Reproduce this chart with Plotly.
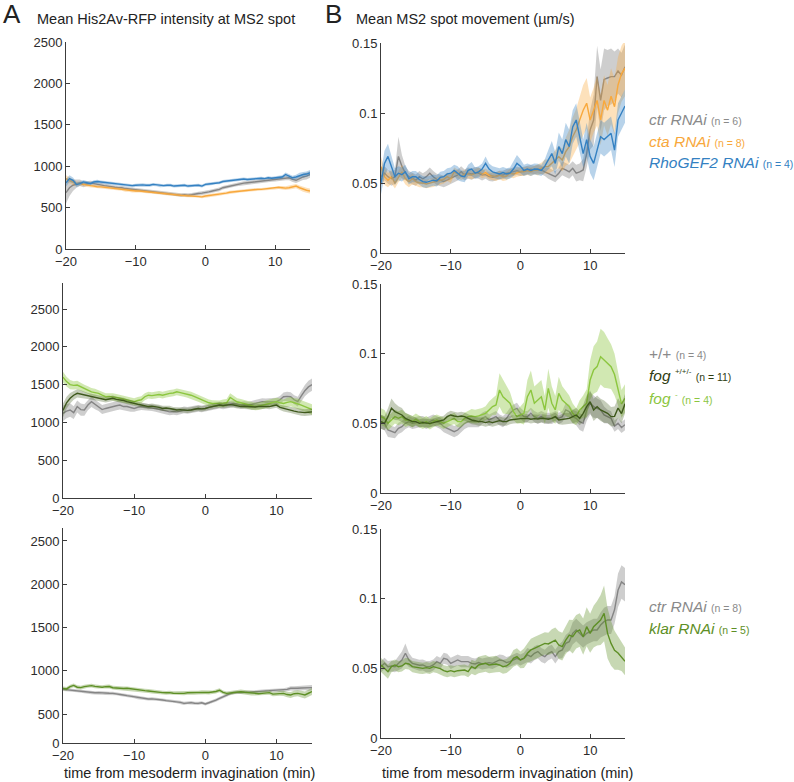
import numpy as np
import plotly.graph_objects as go

# ---------------- data ----------------
time_min = np.arange(-20, 15.01, 0.5)  # sampling grid, 71 points

# Panel A1: His2Av-RFP intensity (ctr / cta / RhoGEF2 RNAi)
a1_ctr = [680, 740, 770, 790, 800, 780, 790, 795, 790, 780,
          770, 765, 760, 750, 745, 740, 740, 730, 725, 720,
          720, 715, 710, 700, 700, 695, 690, 685, 680, 675,
          670, 665, 660, 650, 655, 650, 655, 665, 670, 675,
          680, 690, 700, 710, 720, 740, 750, 760, 770, 780,
          790, 795, 800, 805, 810, 815, 820, 825, 830, 835,
          840, 845, 850, 860, 860, 840, 830, 850, 870, 880,
          900]
a1_ctr_sem = [130, 100, 70, 50, 40, 35, 30, 28, 28, 25,
              22, 22, 22, 22, 22, 22, 22, 22, 22, 22,
              22, 22, 22, 22, 22, 22, 22, 22, 22, 22,
              22, 22, 22, 22, 22, 22, 22, 22, 22, 22,
              22, 22, 22, 22, 22, 22, 22, 22, 22, 22,
              22, 22, 22, 22, 22, 22, 22, 22, 22, 22,
              25, 25, 28, 30, 30, 30, 32, 35, 38, 40,
              40]
a1_cta = [850, 830, 800, 790, 790, 780, 770, 765, 760, 750,
          750, 745, 740, 730, 730, 725, 720, 710, 710, 700,
          700, 700, 695, 690, 690, 685, 680, 675, 670, 665,
          660, 655, 650, 648, 645, 642, 640, 638, 640, 630,
          640, 645, 650, 655, 660, 670, 675, 685, 690, 695,
          700, 705, 710, 715, 715, 720, 720, 725, 730, 735,
          740, 745, 740, 735, 740, 750, 760, 740, 720, 710,
          700]
a1_cta_sem = [40, 35, 30, 25, 22, 20, 20, 20, 20, 20,
              18, 18, 18, 18, 18, 18, 18, 18, 18, 18,
              18, 18, 18, 18, 18, 18, 18, 18, 18, 18,
              18, 18, 18, 18, 18, 18, 18, 18, 18, 18,
              18, 18, 18, 18, 18, 18, 18, 18, 18, 18,
              18, 18, 18, 18, 18, 18, 18, 18, 18, 18,
              20, 20, 22, 22, 25, 25, 25, 28, 30, 30,
              30]
a1_rho = [800, 850, 830, 780, 790, 810, 800, 790, 810, 815,
          810, 805, 800, 795, 790, 780, 780, 770, 770, 765,
          770, 775, 775, 770, 770, 780, 775, 765, 765, 770,
          770, 760, 765, 770, 770, 760, 765, 770, 770, 760,
          780, 785, 790, 800, 800, 815, 820, 825, 830, 835,
          840, 845, 840, 845, 850, 850, 855, 850, 860, 855,
          860, 865, 870, 900, 880, 860, 870, 890, 900, 905,
          920]
a1_rho_sem = [45, 40, 35, 30, 25, 22, 20, 20, 20, 20,
              18, 18, 18, 18, 18, 18, 18, 18, 18, 18,
              18, 18, 18, 18, 18, 18, 18, 18, 18, 18,
              18, 18, 18, 18, 18, 18, 18, 18, 18, 18,
              18, 18, 18, 18, 18, 18, 18, 18, 18, 18,
              18, 18, 18, 18, 18, 18, 18, 18, 18, 18,
              20, 20, 22, 25, 25, 25, 28, 30, 30, 32,
              35]

# Panel A2: +/+, fog+/+/-, fog-
a2_wt = [1120, 1150, 1165, 1130, 1210, 1170, 1165, 1230, 1275, 1240,
         1210, 1170, 1185, 1200, 1210, 1220, 1230, 1210, 1210, 1200,
         1185, 1200, 1210, 1205, 1200, 1195, 1185, 1175, 1165, 1150,
         1140, 1145, 1140, 1150, 1165, 1160, 1165, 1175, 1185, 1180,
         1185, 1200, 1210, 1215, 1230, 1220, 1230, 1240, 1250, 1240,
         1230, 1235, 1230, 1240, 1250, 1260, 1275, 1270, 1275, 1280,
         1275, 1300, 1340, 1345, 1340, 1300, 1275, 1350, 1420, 1470,
         1500]
a2_wt_sem = [100, 95, 90, 85, 80, 80, 75, 70, 70, 65,
             60, 60, 60, 60, 60, 60, 60, 60, 60, 60,
             45, 45, 45, 45, 45, 45, 45, 45, 45, 45,
             45, 45, 45, 45, 45, 45, 45, 45, 45, 45,
             45, 45, 45, 45, 45, 45, 45, 45, 45, 45,
             45, 45, 45, 45, 45, 45, 45, 45, 45, 45,
             50, 50, 55, 60, 60, 60, 65, 70, 75, 80,
             80]
a2_het = [1160, 1260, 1320, 1360, 1385, 1375, 1360, 1350, 1340, 1330,
          1320, 1310, 1300, 1310, 1320, 1305, 1300, 1290, 1275, 1260,
          1250, 1240, 1230, 1220, 1210, 1215, 1210, 1200, 1185, 1190,
          1185, 1170, 1165, 1170, 1165, 1160, 1165, 1175, 1185, 1180,
          1185, 1200, 1210, 1220, 1230, 1225, 1230, 1235, 1230, 1220,
          1210, 1215, 1210, 1200, 1205, 1210, 1210, 1215, 1210, 1220,
          1230, 1200, 1185, 1175, 1165, 1150, 1140, 1135, 1130, 1135,
          1140]
a2_het_sem = [90, 80, 70, 60, 55, 50, 45, 40, 40, 40,
              35, 35, 35, 35, 35, 35, 35, 35, 35, 35,
              35, 35, 35, 35, 35, 35, 35, 35, 35, 35,
              35, 35, 35, 35, 35, 35, 35, 35, 35, 35,
              35, 35, 35, 35, 35, 35, 35, 35, 35, 35,
              35, 35, 35, 35, 35, 35, 35, 35, 35, 35,
              35, 35, 40, 40, 40, 40, 45, 45, 45, 45,
              45]
a2_fog = [1600, 1540, 1500, 1490, 1495, 1470, 1450, 1430, 1405, 1395,
          1385, 1360, 1340, 1345, 1340, 1330, 1320, 1310, 1300, 1290,
          1275, 1290, 1300, 1340, 1360, 1355, 1360, 1370, 1360, 1375,
          1385, 1390, 1405, 1395, 1385, 1370, 1360, 1340, 1320, 1300,
          1275, 1260, 1250, 1250, 1245, 1255, 1260, 1330, 1300, 1270,
          1260, 1245, 1230, 1220, 1210, 1215, 1225, 1240, 1250, 1265,
          1275, 1260, 1250, 1265, 1275, 1260, 1250, 1230, 1210, 1190,
          1170]
a2_fog_sem = [70, 65, 60, 55, 55, 50, 50, 50, 50, 50,
              45, 45, 45, 45, 45, 45, 45, 45, 45, 45,
              45, 45, 45, 45, 45, 45, 45, 45, 45, 45,
              45, 45, 45, 45, 45, 45, 45, 45, 45, 45,
              45, 45, 45, 45, 45, 50, 50, 55, 50, 50,
              50, 50, 50, 50, 50, 50, 50, 50, 50, 50,
              50, 55, 55, 60, 60, 60, 65, 65, 70, 70,
              70]

# Panel A3: ctr / klar RNAi
a3_ctr = [785, 780, 777, 775, 770, 765, 758, 755, 747, 745,
          747, 742, 739, 740, 739, 735, 727, 720, 712, 705,
          700, 690, 681, 678, 673, 675, 673, 668, 662, 655,
          650, 648, 643, 635, 623, 630, 631, 625, 623, 630,
          616, 630, 643, 660, 681, 700, 720, 735, 747, 750,
          750, 752, 750, 755, 758, 760, 766, 768, 770, 772,
          777, 775, 777, 785, 797, 795, 797, 800, 804, 800,
          805]
a3_ctr_sem = [18, 18, 18, 18, 18, 18, 18, 18, 18, 18,
              18, 18, 18, 18, 18, 18, 18, 18, 18, 18,
              18, 18, 18, 18, 18, 18, 18, 18, 18, 18,
              18, 18, 18, 18, 18, 18, 18, 18, 18, 18,
              18, 18, 18, 18, 18, 18, 18, 18, 18, 18,
              18, 18, 18, 18, 18, 18, 18, 18, 18, 18,
              20, 20, 22, 22, 25, 25, 25, 28, 28, 30,
              30]
a3_klar = [797, 790, 816, 830, 810, 805, 816, 825, 828, 820,
           816, 810, 816, 818, 804, 800, 797, 795, 797, 790,
           789, 780, 777, 770, 766, 760, 758, 752, 747, 745,
           747, 740, 739, 742, 739, 745, 747, 745, 747, 752,
           750, 748, 750, 760, 775, 750, 739, 745, 750, 760,
           758, 752, 747, 740, 739, 735, 739, 745, 747, 730,
           731, 740, 739, 725, 720, 735, 739, 730, 720, 740,
           760]
a3_klar_sem = [22, 22, 22, 22, 22, 22, 22, 22, 22, 22,
               22, 22, 22, 22, 22, 22, 22, 22, 22, 22,
               22, 22, 22, 22, 22, 22, 22, 22, 22, 22,
               22, 22, 22, 22, 22, 22, 22, 22, 22, 22,
               22, 22, 22, 22, 22, 22, 22, 22, 22, 22,
               25, 25, 25, 25, 25, 25, 25, 25, 25, 25,
               25, 28, 30, 32, 35, 35, 35, 38, 40, 40,
               40]

# Panel B1: MS2 spot movement (um/s)
b1_ctr = [0.0545, 0.057, 0.0545, 0.053, 0.0545, 0.069, 0.062, 0.057, 0.0545, 0.053,
          0.052, 0.0545, 0.053, 0.0545, 0.057, 0.0545, 0.0526, 0.052, 0.051, 0.052,
          0.053, 0.0545, 0.0557, 0.058, 0.0557, 0.057, 0.0564, 0.0574, 0.057, 0.0557,
          0.056, 0.0545, 0.054, 0.055, 0.0557, 0.0557, 0.057, 0.0574, 0.058, 0.0588,
          0.058, 0.0588, 0.0593, 0.0598, 0.0593, 0.0598, 0.0593, 0.058, 0.057, 0.0557,
          0.0545, 0.057, 0.0605, 0.0593, 0.058, 0.0605, 0.057, 0.058, 0.0593, 0.071,
          0.088, 0.095, 0.126, 0.109, 0.124, 0.125, 0.126, 0.126, 0.130, 0.127,
          0.133]
b1_ctr_sem = [0.006, 0.005, 0.005, 0.005, 0.005, 0.014, 0.008, 0.005, 0.004, 0.004,
              0.004, 0.004, 0.004, 0.004, 0.004, 0.004, 0.004, 0.004, 0.004, 0.004,
              0.004, 0.004, 0.004, 0.004, 0.004, 0.004, 0.004, 0.004, 0.004, 0.004,
              0.003, 0.003, 0.003, 0.003, 0.003, 0.003, 0.003, 0.003, 0.003, 0.003,
              0.003, 0.003, 0.003, 0.003, 0.003, 0.003, 0.003, 0.003, 0.004, 0.004,
              0.004, 0.004, 0.005, 0.005, 0.005, 0.005, 0.006, 0.006, 0.008, 0.010,
              0.014, 0.018, 0.022, 0.022, 0.022, 0.020, 0.020, 0.018, 0.016, 0.016,
              0.016]
b1_cta = [0.0617, 0.0545, 0.052, 0.0545, 0.050, 0.0545, 0.058, 0.053, 0.051, 0.053,
          0.051, 0.050, 0.050, 0.0493, 0.050, 0.0502, 0.051, 0.052, 0.0526, 0.0545,
          0.053, 0.058, 0.0564, 0.055, 0.0564, 0.0564, 0.0557, 0.057, 0.058, 0.0564,
          0.0574, 0.0557, 0.055, 0.0545, 0.0557, 0.0545, 0.055, 0.057, 0.0564, 0.0574,
          0.058, 0.058, 0.0588, 0.058, 0.0593, 0.0593, 0.0605, 0.0617, 0.0617, 0.064,
          0.0664, 0.0688, 0.0664, 0.0724, 0.076, 0.083, 0.088, 0.095, 0.102, 0.107,
          0.095, 0.102, 0.109, 0.095, 0.109, 0.102, 0.112, 0.1045, 0.120, 0.128,
          0.132]
b1_cta_sem = [0.007, 0.006, 0.005, 0.005, 0.004, 0.004, 0.005, 0.004, 0.004, 0.004,
              0.003, 0.003, 0.003, 0.003, 0.003, 0.003, 0.003, 0.003, 0.003, 0.003,
              0.003, 0.003, 0.003, 0.003, 0.003, 0.003, 0.003, 0.003, 0.003, 0.003,
              0.003, 0.003, 0.003, 0.003, 0.003, 0.003, 0.003, 0.003, 0.003, 0.003,
              0.003, 0.003, 0.003, 0.003, 0.003, 0.004, 0.004, 0.005, 0.005, 0.006,
              0.007, 0.008, 0.008, 0.010, 0.012, 0.014, 0.015, 0.016, 0.018, 0.018,
              0.016, 0.016, 0.018, 0.018, 0.018, 0.018, 0.020, 0.020, 0.020, 0.020,
              0.020]
b1_rho = [0.050, 0.064, 0.069, 0.062, 0.0545, 0.057, 0.056, 0.058, 0.053, 0.0545,
          0.0545, 0.0525, 0.051, 0.0505, 0.051, 0.052, 0.0515, 0.054, 0.0545, 0.0565,
          0.057, 0.059, 0.057, 0.055, 0.0545, 0.059, 0.060, 0.057, 0.058, 0.060,
          0.064, 0.060, 0.058, 0.057, 0.0565, 0.0575, 0.0565, 0.057, 0.060, 0.064,
          0.062, 0.059, 0.060, 0.059, 0.060, 0.0598, 0.059, 0.062, 0.0665, 0.071,
          0.064, 0.076, 0.071, 0.081, 0.076, 0.090, 0.095, 0.083, 0.071, 0.081,
          0.069, 0.064, 0.0735, 0.083, 0.081, 0.083, 0.0855, 0.0735, 0.095, 0.100,
          0.105]
b1_rho_sem = [0.008, 0.009, 0.009, 0.008, 0.006, 0.005, 0.005, 0.005, 0.004, 0.004,
              0.004, 0.004, 0.004, 0.004, 0.004, 0.004, 0.004, 0.004, 0.004, 0.004,
              0.004, 0.004, 0.005, 0.004, 0.004, 0.004, 0.005, 0.004, 0.004, 0.004,
              0.005, 0.004, 0.004, 0.004, 0.004, 0.004, 0.004, 0.004, 0.005, 0.006,
              0.005, 0.004, 0.004, 0.004, 0.004, 0.004, 0.004, 0.005, 0.007, 0.009,
              0.008, 0.010, 0.010, 0.012, 0.012, 0.012, 0.012, 0.012, 0.010, 0.012,
              0.012, 0.012, 0.012, 0.012, 0.012, 0.012, 0.012, 0.012, 0.012, 0.012,
              0.012]

# Panel B2
b2_wt = [0.0512, 0.050, 0.0452, 0.044, 0.0433, 0.0464, 0.0476, 0.050, 0.0512, 0.050,
         0.0505, 0.0512, 0.0512, 0.050, 0.0512, 0.0524, 0.0512, 0.050, 0.0476, 0.0464,
         0.0452, 0.044, 0.0452, 0.0476, 0.050, 0.0512, 0.0512, 0.0512, 0.0512, 0.0536,
         0.0548, 0.0524, 0.0536, 0.0548, 0.0524, 0.0512, 0.0536, 0.0572, 0.0596, 0.0608,
         0.0572, 0.0548, 0.0548, 0.0572, 0.0548, 0.0536, 0.0548, 0.0536, 0.0536, 0.0536,
         0.0548, 0.0536, 0.0548, 0.0596, 0.0584, 0.0548, 0.0536, 0.0512, 0.050, 0.0596,
         0.0644, 0.062, 0.0608, 0.0596, 0.056, 0.0548, 0.0536, 0.048, 0.050, 0.047,
         0.049]
b2_wt_sem = [0.005, 0.005, 0.005, 0.004, 0.004, 0.004, 0.004, 0.004, 0.004, 0.004,
             0.004, 0.004, 0.004, 0.004, 0.004, 0.004, 0.004, 0.004, 0.004, 0.004,
             0.004, 0.004, 0.004, 0.004, 0.004, 0.004, 0.004, 0.004, 0.004, 0.004,
             0.004, 0.004, 0.004, 0.004, 0.004, 0.004, 0.004, 0.004, 0.004, 0.004,
             0.004, 0.004, 0.004, 0.004, 0.004, 0.004, 0.004, 0.004, 0.004, 0.004,
             0.004, 0.004, 0.004, 0.005, 0.005, 0.005, 0.005, 0.006, 0.006, 0.008,
             0.008, 0.008, 0.007, 0.007, 0.006, 0.005, 0.005, 0.004, 0.004, 0.004,
             0.004]
b2_het = [0.0512, 0.050, 0.0548, 0.0608, 0.0584, 0.0572, 0.056, 0.0536, 0.0524, 0.0512,
          0.0512, 0.050, 0.0505, 0.050, 0.050, 0.0505, 0.0512, 0.0519, 0.0524, 0.0548,
          0.056, 0.0553, 0.0548, 0.0553, 0.0548, 0.0536, 0.0524, 0.0519, 0.0512, 0.0512,
          0.0505, 0.0512, 0.0505, 0.0512, 0.0519, 0.0512, 0.0512, 0.0524, 0.0529, 0.0531,
          0.0534, 0.0534, 0.0536, 0.0529, 0.0534, 0.0531, 0.0536, 0.0534, 0.0529, 0.0536,
          0.0548, 0.0524, 0.0529, 0.0536, 0.0536, 0.0548, 0.056, 0.0536, 0.0572, 0.062,
          0.0655, 0.0596, 0.062, 0.0596, 0.0584, 0.0572, 0.0548, 0.055, 0.061, 0.057,
          0.064]
b2_het_sem = [0.005, 0.005, 0.006, 0.007, 0.006, 0.005, 0.005, 0.004, 0.004, 0.004,
              0.003, 0.003, 0.003, 0.003, 0.003, 0.003, 0.003, 0.003, 0.003, 0.003,
              0.003, 0.003, 0.003, 0.003, 0.003, 0.003, 0.003, 0.003, 0.003, 0.003,
              0.003, 0.003, 0.003, 0.003, 0.003, 0.003, 0.003, 0.003, 0.003, 0.003,
              0.003, 0.003, 0.003, 0.003, 0.003, 0.003, 0.003, 0.003, 0.003, 0.003,
              0.003, 0.003, 0.004, 0.004, 0.004, 0.005, 0.005, 0.005, 0.006, 0.008,
              0.008, 0.008, 0.008, 0.008, 0.008, 0.007, 0.007, 0.007, 0.007, 0.007,
              0.007]
b2_fog = [0.0548, 0.0536, 0.050, 0.0524, 0.0548, 0.0536, 0.0548, 0.0524, 0.0524, 0.0512,
          0.053, 0.0512, 0.050, 0.0512, 0.0495, 0.0512, 0.0524, 0.0512, 0.050, 0.0512,
          0.0524, 0.0536, 0.0512, 0.0512, 0.0536, 0.0548, 0.0553, 0.0548, 0.0553, 0.056,
          0.0572, 0.0596, 0.062, 0.0632, 0.0739, 0.0691, 0.0667, 0.0644, 0.0584, 0.0548,
          0.056, 0.0572, 0.0691, 0.0739, 0.0644, 0.0667, 0.0691, 0.0596, 0.0751, 0.0644,
          0.0596, 0.0715, 0.0667, 0.0644, 0.062, 0.0572, 0.0548, 0.0596, 0.062, 0.0644,
          0.0811, 0.0883, 0.0907, 0.0978, 0.0955, 0.0931, 0.0907, 0.085, 0.075, 0.064,
          0.068]
b2_fog_sem = [0.006, 0.006, 0.005, 0.005, 0.005, 0.005, 0.005, 0.005, 0.004, 0.004,
              0.004, 0.004, 0.004, 0.004, 0.004, 0.004, 0.004, 0.004, 0.004, 0.004,
              0.004, 0.004, 0.004, 0.004, 0.004, 0.004, 0.005, 0.005, 0.005, 0.005,
              0.005, 0.006, 0.006, 0.007, 0.012, 0.012, 0.010, 0.008, 0.006, 0.005,
              0.006, 0.008, 0.012, 0.014, 0.012, 0.012, 0.012, 0.010, 0.014, 0.012,
              0.010, 0.012, 0.010, 0.009, 0.008, 0.007, 0.006, 0.007, 0.008, 0.010,
              0.014, 0.017, 0.018, 0.020, 0.020, 0.018, 0.016, 0.015, 0.012, 0.010,
              0.010]

# Panel B3
b3_ctr = [0.0512, 0.0536, 0.0512, 0.0517, 0.0512, 0.0536, 0.056, 0.0608, 0.056, 0.0536,
          0.0531, 0.0522, 0.0524, 0.0512, 0.0512, 0.0524, 0.0548, 0.0536, 0.0572, 0.0565,
          0.0536, 0.0548, 0.056, 0.0548, 0.0548, 0.0548, 0.0536, 0.0531, 0.0541, 0.0531,
          0.0536, 0.0541, 0.0536, 0.0548, 0.056, 0.0555, 0.0541, 0.0548, 0.056, 0.0572,
          0.056, 0.0572, 0.0596, 0.0584, 0.0608, 0.062, 0.0596, 0.0584, 0.0608, 0.062,
          0.0584, 0.062, 0.0632, 0.0679, 0.0691, 0.0751, 0.0775, 0.0751, 0.0727, 0.0751,
          0.0763, 0.0775, 0.0775, 0.0811, 0.0835, 0.0847, 0.0847, 0.092, 0.106, 0.112,
          0.110]
b3_ctr_sem = [0.004, 0.004, 0.004, 0.004, 0.004, 0.005, 0.006, 0.007, 0.005, 0.004,
              0.004, 0.004, 0.004, 0.004, 0.004, 0.004, 0.004, 0.004, 0.004, 0.004,
              0.004, 0.004, 0.004, 0.004, 0.004, 0.004, 0.004, 0.004, 0.004, 0.004,
              0.004, 0.004, 0.004, 0.004, 0.004, 0.004, 0.004, 0.004, 0.004, 0.004,
              0.004, 0.004, 0.005, 0.005, 0.005, 0.005, 0.005, 0.005, 0.005, 0.005,
              0.005, 0.005, 0.006, 0.006, 0.007, 0.008, 0.008, 0.008, 0.008, 0.008,
              0.008, 0.008, 0.008, 0.009, 0.010, 0.010, 0.010, 0.010, 0.012, 0.012,
              0.012]
b3_klar = [0.0524, 0.050, 0.0476, 0.0512, 0.0524, 0.0512, 0.0517, 0.0536, 0.0531, 0.0512,
           0.0507, 0.0502, 0.050, 0.0505, 0.050, 0.0512, 0.0507, 0.0498, 0.0483, 0.0476,
           0.0483, 0.0476, 0.0483, 0.0488, 0.0488, 0.0476, 0.0512, 0.050, 0.0524, 0.0531,
           0.0536, 0.0524, 0.0529, 0.0531, 0.0524, 0.0512, 0.0517, 0.0536, 0.0572, 0.0584,
           0.056, 0.0572, 0.0608, 0.0632, 0.0644, 0.0656, 0.0667, 0.0679, 0.0675, 0.0691,
           0.0703, 0.0667, 0.0656, 0.0703, 0.0739, 0.0727, 0.0763, 0.0775, 0.0727, 0.0799,
           0.0751, 0.0799, 0.0823, 0.0847, 0.0895, 0.0751, 0.0679, 0.063, 0.061, 0.058,
           0.055]
b3_klar_sem = [0.005, 0.005, 0.005, 0.004, 0.004, 0.004, 0.004, 0.004, 0.004, 0.004,
               0.004, 0.004, 0.004, 0.004, 0.004, 0.004, 0.004, 0.004, 0.004, 0.004,
               0.004, 0.004, 0.004, 0.004, 0.004, 0.004, 0.005, 0.005, 0.006, 0.006,
               0.006, 0.006, 0.006, 0.006, 0.005, 0.005, 0.005, 0.005, 0.006, 0.006,
               0.006, 0.007, 0.007, 0.008, 0.008, 0.008, 0.008, 0.008, 0.008, 0.009,
               0.009, 0.010, 0.010, 0.010, 0.011, 0.012, 0.012, 0.012, 0.013, 0.014,
               0.014, 0.015, 0.016, 0.018, 0.020, 0.018, 0.016, 0.014, 0.012, 0.010,
               0.010]

x_ticks = [-20, -10, 0, 10]
a_ticks = [0, 500, 1000, 1500, 2000, 2500]
b_ticks = [0, 0.05, 0.1, 0.15]
b_tick_text = ["0", "0.05", "0.1", "0.15"]

# ---------------- styling ----------------
FONT = "Liberation Sans, Arial, Helvetica, sans-serif"
W, H = 794, 782
GRAY = "#858585"
ORANGE = "#f8a83c"
BLUE = "#3481c2"
LGREEN = "#8cc63f"
DGREEN = "#3e581c"
KLAR = "#5e8f26"


def rgba(hex_color, a):
    h = hex_color.lstrip("#")
    r, g, b = int(h[0:2], 16), int(h[2:4], 16), int(h[4:6], 16)
    return f"rgba({r},{g},{b},{a})"


fig = go.Figure()


def add_series(ax, y, sem, color, band_alpha=0.35):
    x = list(time_min)
    y = np.asarray(y, dtype=float)
    s = np.asarray(sem, dtype=float)
    up = y + s
    lo = y - s
    fig.add_trace(go.Scatter(
        x=x + x[::-1], y=list(up) + list(lo[::-1]), fill="toself",
        fillcolor=rgba(color, band_alpha), line=dict(width=0),
        hoverinfo="skip", showlegend=False,
        xaxis="x" + ax, yaxis="y" + ax))
    fig.add_trace(go.Scatter(
        x=x, y=list(y), mode="lines", line=dict(color=color, width=1.4),
        showlegend=False, xaxis="x" + ax, yaxis="y" + ax))


# axis suffixes: "" A1, "2" B1, "3" A2, "4" B2, "5" A3, "6" B3
add_series("", a1_ctr, a1_ctr_sem, GRAY, 0.4)
add_series("", a1_cta, a1_cta_sem, ORANGE)
add_series("", a1_rho, a1_rho_sem, BLUE)
add_series("2", b1_ctr, b1_ctr_sem, GRAY, 0.4)
add_series("2", b1_cta, b1_cta_sem, ORANGE)
add_series("2", b1_rho, b1_rho_sem, BLUE)
add_series("3", a2_wt, a2_wt_sem, GRAY, 0.4)
add_series("3", a2_fog, a2_fog_sem, LGREEN, 0.4)
add_series("3", a2_het, a2_het_sem, DGREEN, 0.3)
add_series("4", b2_wt, b2_wt_sem, GRAY, 0.4)
add_series("4", b2_fog, b2_fog_sem, LGREEN, 0.4)
add_series("4", b2_het, b2_het_sem, DGREEN, 0.3)
add_series("5", a3_ctr, a3_ctr_sem, GRAY, 0.4)
add_series("5", a3_klar, a3_klar_sem, KLAR, 0.35)
add_series("6", b3_ctr, b3_ctr_sem, GRAY, 0.4)
add_series("6", b3_klar, b3_klar_sem, KLAR, 0.35)


def px_x(p):
    return p / W


def px_y(p):
    return (H - p) / H


AXC = "#3c3c3c"
common = dict(showline=True, linecolor=AXC, linewidth=1, ticks="inside",
              ticklen=4, tickcolor=AXC, tickwidth=1, showgrid=False,
              zeroline=False, mirror=False, automargin=False,
              tickfont=dict(family=FONT, size=13, color="#2b2b2b"))

# panel pixel boxes: (x0, x1, ybottom, ytop)
boxes = {
    "": (66, 310, 249, 42),
    "2": (381, 625, 253, 43),
    "3": (63, 312, 498, 283),
    "4": (381, 625, 493, 284),
    "5": (63, 312, 743, 528),
    "6": (381, 625, 738, 529),
}
yranges = {"": [0, 2500], "2": [0, 0.15], "3": [0, 2845], "4": [0, 0.15],
           "5": [165, 2650], "6": [0, 0.15]}

layout = {}
for k, (x0, x1, yb, yt) in boxes.items():
    xa = "xaxis" + k
    ya = "yaxis" + k
    layout[xa] = dict(common, domain=[px_x(x0), px_x(x1)], range=[-20, 15],
                      tickvals=x_ticks, anchor="y" + k)
    if k in ("", "3"):
        yd = dict(tickvals=a_ticks)
    elif k == "5":
        yd = dict(tickvals=[165] + a_ticks[1:],
                  ticktext=[str(v) for v in a_ticks])
    else:
        yd = dict(tickvals=b_ticks, ticktext=b_tick_text)
    layout[ya] = dict(common, domain=[px_y(yb), px_y(yt)], range=yranges[k],
                      anchor="x" + k, **yd)

annotations = []


def txt(x, y, text, size, color="#222222", anchor="left"):
    annotations.append(dict(x=px_x(x), y=px_y(y), xref="paper", yref="paper",
                            text=text, showarrow=False, xanchor=anchor,
                            yanchor="middle",
                            font=dict(family=FONT, size=size, color=color)))


txt(1, 14, "A", 26)
txt(35, 19, "Mean His2Av-RFP intensity at MS2 spot", 14.5)
txt(323, 14, "B", 26)
txt(354, 19, "Mean MS2 spot movement (µm/s)", 14.5)
txt(62, 773, "time from mesoderm invagination (min)", 14.5)
txt(380, 773, "time from mesoderm invagination (min)", 14.5)


def ntext(n, color):
    return f"<span style='font-size:10.5px;color:{color}'>(n = {n})</span>"


LEGX = 647
txt(LEGX, 120, "<i>ctr RNAi</i> " + ntext(6, "#8a8a8a"), 15.5, "#8a8a8a")
txt(LEGX, 141, "<i>cta RNAi</i> " + ntext(8, ORANGE), 15.5, ORANGE)
txt(LEGX, 162, "<i>RhoGEF2 RNAi</i> " + ntext(4, BLUE), 15.5, BLUE)
txt(LEGX, 353, "+/+ " + ntext(4, "#8a8a8a"), 15.5, "#8a8a8a")
txt(LEGX, 375, "<i>fog</i> <sup><span style='font-size:8px'>+/+/-</span></sup> "
    + ntext(11, "#2f3d12"), 15.5, "#2f3d12")
txt(LEGX, 398, "<i>fog</i> <sup><span style='font-size:8px'>-</span></sup> "
    + ntext(4, LGREEN), 15.5, LGREEN)
txt(LEGX, 606, "<i>ctr RNAi</i> " + ntext(8, "#8a8a8a"), 15.5, "#8a8a8a")
txt(LEGX, 628, "<i>klar RNAi</i> " + ntext(5, KLAR), 15.5, KLAR)

fig.update_layout(
    template="none",
    width=W, height=H, margin=dict(l=0, r=0, t=0, b=0, autoexpand=False),
    paper_bgcolor="white", plot_bgcolor="white",
    font=dict(family=FONT, color="#222222"),
    annotations=annotations, showlegend=False, **layout)

# place the figure flush with the page's top-left corner, no mode bar
fig.write_html("out.html",
               config={"displayModeBar": False, "staticPlot": True},
               post_script="document.body.style.margin='0';"
                           "document.body.style.padding='0';")
